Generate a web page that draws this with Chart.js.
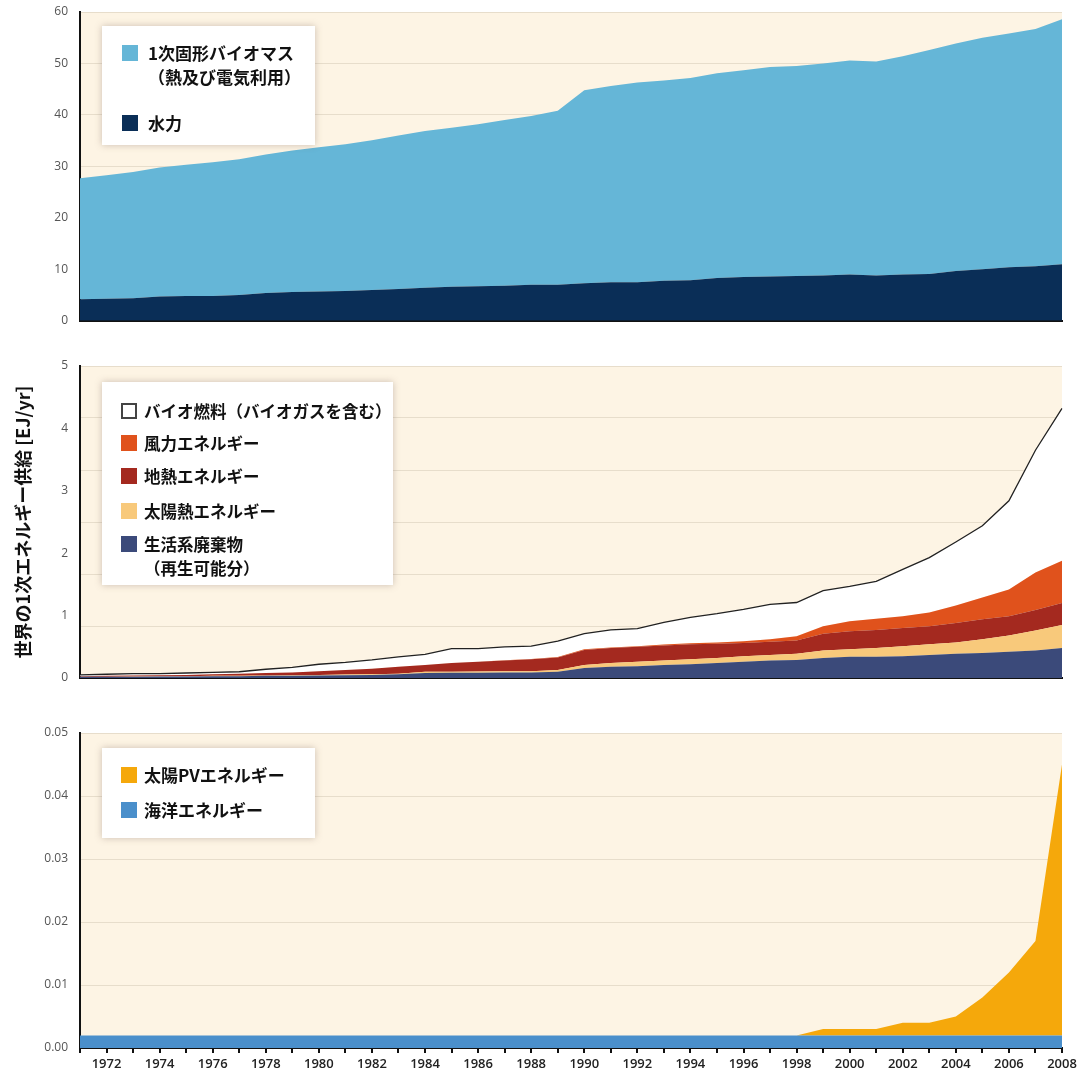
<!DOCTYPE html>
<html><head><meta charset="utf-8">
<script src="https://cdn.jsdelivr.net/npm/chart.js@4.4.1/dist/chart.umd.min.js"></script>
<style>
html,body{margin:0;padding:0;background:#fff;}
#wrap{position:relative;width:1085px;height:1071px;overflow:hidden;font-family:"Noto Sans CJK JP",sans-serif;}
canvas{position:absolute;left:0;}
.legend{position:absolute;background:#fff;box-shadow:0 0 7px rgba(110,90,80,0.35);}
.item{position:absolute;display:flex;align-items:flex-start;font-weight:700;color:#111;line-height:24px;white-space:pre-line;}
.sw{width:16px;height:16px;margin-top:4px;box-sizing:border-box;flex:none;}
</style></head>
<body>
<div id="wrap">
<canvas id="c1" width="1085" height="350" style="top:-10px;width:1085px;height:350px"></canvas>
<canvas id="c2" width="1085" height="360" style="top:340px;width:1085px;height:360px"></canvas>
<canvas id="c3" width="1085" height="371" style="top:700px;width:1085px;height:371px"></canvas>
</div>
<script>
// ---- data (EJ/yr), 1971-2008 ----
const years = ['1971','1972','1973','1974','1975','1976','1977','1978','1979','1980',
  '1981','1982','1983','1984','1985','1986','1987','1988','1989','1990',
  '1991','1992','1993','1994','1995','1996','1997','1998','1999','2000',
  '2001','2002','2003','2004','2005','2006','2007','2008'];

// top panel
const hydro = [4.2,4.3,4.4,4.7,4.8,4.8,5.0,5.4,5.6,5.7,5.8,6.0,6.2,6.4,6.6,6.7,6.8,7.0,7.0,7.3,
  7.5,7.5,7.8,7.9,8.3,8.5,8.6,8.7,8.8,9.0,8.8,9.0,9.1,9.7,10.0,10.4,10.6,11.0];
const solidBiomass = [23.5,24.0,24.5,25.1,25.5,26.0,26.4,26.9,27.5,28.0,28.5,29.1,29.8,30.5,30.9,31.5,32.2,32.8,33.8,37.5,
  38.1,38.8,38.9,39.3,39.8,40.2,40.7,40.8,41.2,41.6,41.6,42.4,43.5,44.2,45.0,45.4,46.1,47.6];

// middle panel
const municipalWaste = [0.02,0.02,0.02,0.025,0.025,0.03,0.03,0.035,0.035,0.04,0.045,0.05,0.06,0.08,0.085,0.085,0.09,0.09,0.10,0.16,
  0.18,0.19,0.21,0.22,0.24,0.26,0.28,0.29,0.32,0.34,0.34,0.35,0.37,0.39,0.40,0.42,0.44,0.48];
const solarThermal = [0.0,0.0,0.005,0.005,0.005,0.005,0.005,0.005,0.01,0.01,0.01,0.01,0.01,0.02,0.015,0.02,0.02,0.02,0.03,0.05,
  0.06,0.07,0.07,0.08,0.08,0.09,0.09,0.10,0.12,0.12,0.14,0.16,0.17,0.18,0.22,0.26,0.32,0.37];
const geothermal = [0.01,0.015,0.015,0.015,0.02,0.025,0.035,0.04,0.045,0.06,0.075,0.09,0.11,0.11,0.14,0.155,0.17,0.19,0.20,0.24,
  0.24,0.24,0.24,0.24,0.23,0.21,0.21,0.21,0.27,0.29,0.29,0.29,0.29,0.31,0.32,0.31,0.33,0.35];
const wind = [0,0,0,0,0,0,0,0,0,0,0,0,0,0,0,0,0.005,0.005,0.005,0.01,
  0.01,0.01,0.015,0.015,0.02,0.03,0.04,0.07,0.12,0.16,0.18,0.19,0.22,0.28,0.35,0.43,0.60,0.68];
const biofuels = [0.02,0.025,0.03,0.025,0.03,0.03,0.03,0.06,0.08,0.11,0.12,0.14,0.16,0.17,0.23,0.21,0.215,0.205,0.255,0.25,
  0.28,0.28,0.355,0.415,0.46,0.51,0.56,0.54,0.57,0.56,0.60,0.75,0.88,1.02,1.15,1.42,1.96,2.44];

// bottom panel
const ocean = [0.002,0.002,0.002,0.002,0.002,0.002,0.002,0.002,0.002,0.002,0.002,0.002,0.002,0.002,0.002,0.002,0.002,0.002,0.002,0.002,
  0.002,0.002,0.002,0.002,0.002,0.002,0.002,0.002,0.002,0.002,0.002,0.002,0.002,0.002,0.002,0.002,0.002,0.002];
const solarPV = [0,0,0,0,0,0,0,0,0,0,0,0,0,0,0,0,0,0,0,0,
  0,0,0,0,0,0,0,0,0.001,0.001,0.001,0.002,0.002,0.003,0.006,0.010,0.015,0.043];

// labels
const labelsTop = ['1次固形バイオマス\n（熱及び電気利用）','水力'];
const labelsMid = ['バイオ燃料（バイオガスを含む）','風力エネルギー','地熱エネルギー','太陽熱エネルギー','生活系廃棄物\n（再生可能分）'];
const labelsBot = ['太陽PVエネルギー','海洋エネルギー'];
const yTitle = '世界の1次エネルギー供給 [EJ/yr]';

// ---- styling ----
const C = {
  bg:'#fdf4e4', grid:'#e7ddcb', axis:'#111',
  hydro:'#0a2e57', biomass:'#65b6d7',
  msw:'#3b4a7a', solarTh:'#f8c97b', geo:'#a4291f', wind:'#e0521c', bio:'#ffffff',
  ocean:'#4a8fcb', pv:'#f5a80b'
};
const tickFont = {family:'Open Sans', size:12};
const bgPlugin = {
  id:'plotBg',
  beforeDraw(chart){
    const {ctx, chartArea:a} = chart;
    ctx.save(); ctx.fillStyle = C.bg;
    ctx.fillRect(a.left, a.top, a.right-a.left, a.bottom-a.top);
    ctx.restore();
  }
};
function area(label, data, color, fill, extra){
  return Object.assign({label, data, backgroundColor:color, borderWidth:0, borderColor:color,
    fill, pointRadius:0, tension:0}, extra||{});
}
function makeChart(id, datasets, o){
  const yLabelAxis = {
    stacked:true, min:0, max:o.max, position:'left', z:1,
    ticks:{stepSize:o.step, padding:12, color:'#555', font:tickFont,
      callback:o.fmt || (v=>v)},
    grid:{display:false, drawTicks:false},
    border:{display:true, color:C.axis, width:2},
    afterFit:s=>{s.width=80;}
  };
  if (o.title) {
    yLabelAxis.title = {display:true, text:o.title, color:'#111',
      font:{family:'Noto Sans CJK JP', size:18, weight:'bold'}, padding:{top:12,bottom:0}};
  }
  const xAxis = o.xLabels ? {
    offset:false, z:1,
    ticks:{autoSkip:false, maxRotation:0, minRotation:0, padding:3, color:'#222',
      font:{family:'Open Sans', size:13, weight:'600'},
      callback:function(v){ const t=this.getLabelForValue(v); return (+t)%2===0 ? t : ''; }},
    grid:{display:true, drawOnChartArea:false, drawTicks:true, tickLength:5, color:C.axis, lineWidth:2},
    border:{display:true, color:C.axis, width:2},
    afterFit:s=>{s.height=o.xh;}
  } : {
    offset:false, z:1,
    ticks:{display:false},
    grid:{display:false, drawTicks:false},
    border:{display:true, color:C.axis, width:2},
    afterFit:s=>{s.height=o.xh;}
  };
  return new Chart(document.getElementById(id), {
    type:'line',
    data:{labels:years, datasets},
    options:{
      responsive:false, animation:false, events:[],
      layout:{padding:{top:o.pt, right:23, left:0, bottom:0}},
      plugins:{legend:{display:false}, tooltip:{enabled:false}},
      scales:{
        x:xAxis,
        y:yLabelAxis,
        yg:{position:'right', min:0, max:o.gmax, z:0,
          ticks:{display:false, stepSize:o.gstep},
          grid:{color:C.grid, lineWidth:1, drawTicks:false},
          border:{display:false},
          afterFit:s=>{s.width=0;}}
      }
    },
    plugins:[bgPlugin]
  });
}

makeChart('c1', [
  area(labelsTop[1], hydro, C.hydro, 'origin'),
  area(labelsTop[0], solidBiomass, C.biomass, '-1')
], {max:60, step:10, gmax:60, gstep:10, pt:22, xh:15});

makeChart('c2', [
  area(labelsMid[4], municipalWaste, C.msw, 'origin'),
  area(labelsMid[3], solarThermal, C.solarTh, '-1'),
  area(labelsMid[2], geothermal, C.geo, '-1'),
  area(labelsMid[1], wind, C.wind, '-1'),
  area(labelsMid[0], biofuels, C.bio, '-1', {borderColor:'#222', borderWidth:1.3})
], {max:5, step:1, gmax:6, gstep:1, pt:26, xh:22, title:yTitle});

makeChart('c3', [
  area(labelsBot[1], ocean, C.ocean, 'origin'),
  area(labelsBot[0], solarPV, C.pv, '-1')
], {max:0.05, step:0.01, gmax:0.05, gstep:0.01, pt:33, xh:23, xLabels:true,
    fmt:v=>Number(v).toFixed(2)});

// ---- HTML legends ----
function legend(box, items){
  const wrap = document.getElementById('wrap');
  const d = document.createElement('div');
  d.className='legend';
  Object.assign(d.style, {left:box.l+'px', top:box.t+'px', width:box.w+'px', height:box.h+'px'});
  items.forEach(it=>{
    const row = document.createElement('div');
    row.className='item';
    row.style.left = box.sx+'px'; row.style.top = it.top+'px'; row.style.fontSize = box.fs+'px';
    const sw = document.createElement('div');
    sw.className='sw';
    sw.style.background = it.color; sw.style.marginRight = box.gap+'px';
    if (it.border) sw.style.border = it.border;
    const tx = document.createElement('div');
    tx.textContent = it.text;
    row.appendChild(sw); row.appendChild(tx);
    d.appendChild(row);
  });
  wrap.appendChild(d);
}
legend({l:102,t:26,w:213,h:119,sx:20,gap:10,fs:17}, [
  {text:labelsTop[0], color:C.biomass, top:15},
  {text:labelsTop[1], color:C.hydro, top:85}
]);
legend({l:102,t:382,w:291,h:203,sx:19,gap:7,fs:16.5}, [
  {text:labelsMid[0], color:'#fff', border:'2px solid #444', top:17},
  {text:labelsMid[1], color:C.wind, top:49},
  {text:labelsMid[2], color:C.geo, top:82},
  {text:labelsMid[3], color:C.solarTh, top:117},
  {text:labelsMid[4], color:C.msw, top:150}
]);
legend({l:102,t:748,w:213,h:90,sx:19,gap:7,fs:17}, [
  {text:labelsBot[0], color:C.pv, top:15},
  {text:labelsBot[1], color:C.ocean, top:50}
]);
</script>
</body></html>
